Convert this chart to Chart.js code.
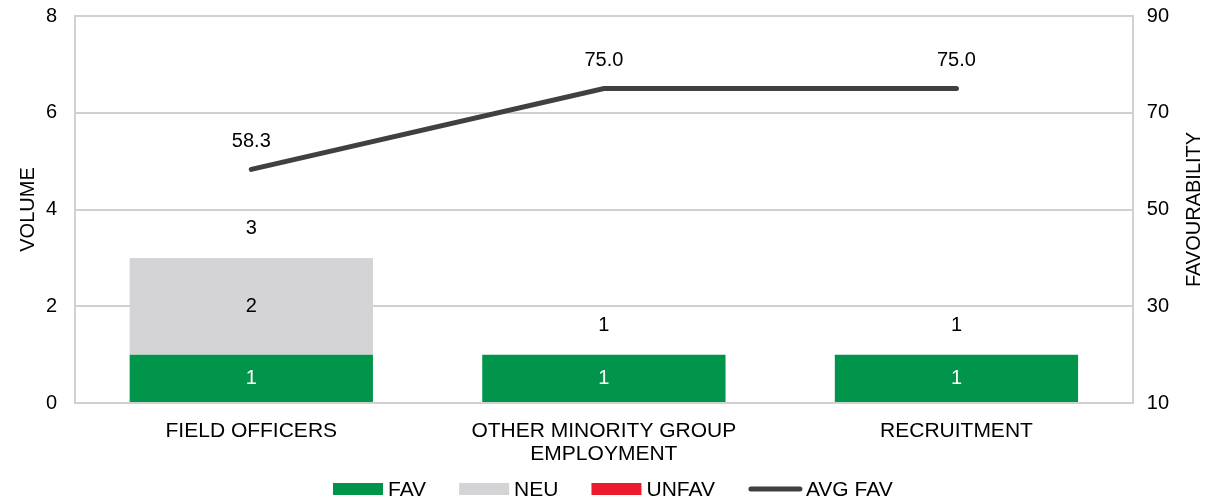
<!DOCTYPE html>
<html>
<head>
<meta charset="utf-8">
<script src="https://cdn.jsdelivr.net/npm/chart.js@4"></script>
<style>
    html, body { margin: 0; padding: 0; background: #fff; }
    #wrap { width: 1205px; height: 502px; }
</style>
</head>
<body>
<div id="wrap"><canvas id="chart"></canvas></div>
<script>
const categories = ['FIELD OFFICERS', ['OTHER MINORITY GROUP', 'EMPLOYMENT'], 'RECRUITMENT'];
const favValues = [1, 1, 1];
const neuValues = [2, 0, 0];
const unfavValues = [0, 0, 0];
const avgFavValues = [58.3, 75.0, 75.0];
const volumeTicks = [0, 2, 4, 6, 8];
const favourTicks = [10, 30, 50, 70, 90];

const fontFamily = 'Liberation Sans, Arial, sans-serif';
const font = { family: fontFamily, size: 20 };
const catFont = { family: fontFamily, size: 21, lineHeight: 1.1 };
const legendFont = '21px "Liberation Sans", Arial, sans-serif';

// segment labels, stack totals, line labels, right axis title and legend
const labelPlugin = {
    id: 'labels',
    afterDatasetsDraw(chart) {
        const ctx = chart.ctx;
        ctx.save();
        ctx.font = `${font.size}px ${font.family}`;
        ctx.textAlign = 'center';
        ctx.textBaseline = 'middle';
        chart.data.datasets.forEach((ds, i) => {
            const meta = chart.getDatasetMeta(i);
            if (ds.type === 'line') {
                meta.data.forEach((pt, j) => {
                    ctx.fillStyle = '#000';
                    ctx.fillText(ds.data[j].toFixed(1), pt.x, pt.y - 28);
                });
                return;
            }
            meta.data.forEach((bar, j) => {
                if (!ds.data[j]) return;
                ctx.fillStyle = ds.labelColor;
                ctx.fillText(ds.data[j], bar.x, (bar.y + bar.base) / 2);
            });
        });
        const yScale = chart.scales.y;
        const firstBars = chart.getDatasetMeta(1).data;
        categories.forEach((c, j) => {
            const total = favValues[j] + neuValues[j] + unfavValues[j];
            ctx.fillStyle = '#000';
            ctx.fillText(total, firstBars[j].x, yScale.getPixelForValue(total) - 29);
        });

        // legend
        const order = [1, 2, 3, 0];
        ctx.font = legendFont;
        ctx.textAlign = 'left';
        const spacing = 33;
        let x = chart.chartArea.left + 258;
        const ly = 489;
        order.forEach(i => {
            const ds = chart.data.datasets[i];
            let w;
            if (ds.type === 'line') {
                w = 58;
                ctx.strokeStyle = ds.borderColor;
                ctx.lineWidth = 5;
                ctx.lineCap = 'round';
                ctx.beginPath();
                ctx.moveTo(x + 3, ly);
                ctx.lineTo(x + 52, ly);
                ctx.stroke();
            } else {
                w = 55;
                ctx.fillStyle = ds.backgroundColor;
                ctx.fillRect(x, ly - 6, 50, 12);
            }
            ctx.fillStyle = '#000';
            ctx.fillText(ds.label, x + w, ly + 1);
            x += w + ctx.measureText(ds.label).width + spacing;
        });

        const area = chart.chartArea;
        ctx.font = `${font.size}px ${font.family}`;
        ctx.textAlign = 'center';
        ctx.translate(1194, (area.top + area.bottom) / 2);
        ctx.rotate(-Math.PI / 2);
        ctx.fillText('FAVOURABILITY', 0, 0);
        ctx.restore();
    }
};

function noVerticalPadding(scale) {
    scale.paddingTop = 0;
    scale.paddingBottom = 0;
}

new Chart(document.getElementById('chart'), {
    data: {
        labels: categories,
        datasets: [
            { type: 'line', label: 'AVG FAV', data: avgFavValues, yAxisID: 'y1', borderColor: '#404040', backgroundColor: '#404040', borderWidth: 5, pointRadius: 0, borderCapStyle: 'round', order: 0 },
            { type: 'bar', label: 'FAV', data: favValues, backgroundColor: '#00954a', labelColor: '#fff', yAxisID: 'y', order: 1 },
            { type: 'bar', label: 'NEU', data: neuValues, backgroundColor: '#d4d4d6', labelColor: '#000', yAxisID: 'y', order: 1 },
            { type: 'bar', label: 'UNFAV', data: unfavValues, backgroundColor: '#ed1b2e', labelColor: '#fff', yAxisID: 'y', order: 1 }
        ]
    },
    options: {
        responsive: true,
        maintainAspectRatio: false,
        animation: false,
        layout: { padding: { top: 16, right: 22, left: 12, bottom: 0 } },
        datasets: { bar: { categoryPercentage: 1, barPercentage: 0.69 } },
        plugins: {
            tooltip: { enabled: false },
            legend: { display: false }
        },
        scales: {
            x: {
                stacked: true,
                grid: { display: false },
                border: { color: '#d0d0d0', width: 2 },
                ticks: { color: '#000', font: catFont, maxRotation: 0, padding: 9 },
                afterFit(scale) { scale.height = 99; scale.paddingLeft = 0; scale.paddingRight = 0; }
            },
            y: {
                stacked: true,
                min: 0,
                max: 8,
                afterBuildTicks(axis) { axis.ticks = volumeTicks.map(v => ({ value: v })); },
                afterFit(scale) { noVerticalPadding(scale); scale.width = 63; },
                grid: { color: '#d0d0d0', lineWidth: 2, drawTicks: false },
                border: { color: '#d0d0d0', width: 2 },
                ticks: { color: '#000', font: font, padding: 18 },
                title: { display: true, text: 'VOLUME', color: '#000', font: font, padding: { top: 4, bottom: 6 } }
            },
            y1: {
                position: 'right',
                min: 10,
                max: 90,
                afterBuildTicks(axis) { axis.ticks = favourTicks.map(v => ({ value: v })); },
                afterFit: noVerticalPadding,
                grid: { display: false, drawTicks: false },
                border: { color: '#d0d0d0', width: 2 },
                ticks: { color: '#000', font: font, padding: 14 }
            }
        }
    },
    plugins: [labelPlugin]
});
</script>
</body>
</html>
